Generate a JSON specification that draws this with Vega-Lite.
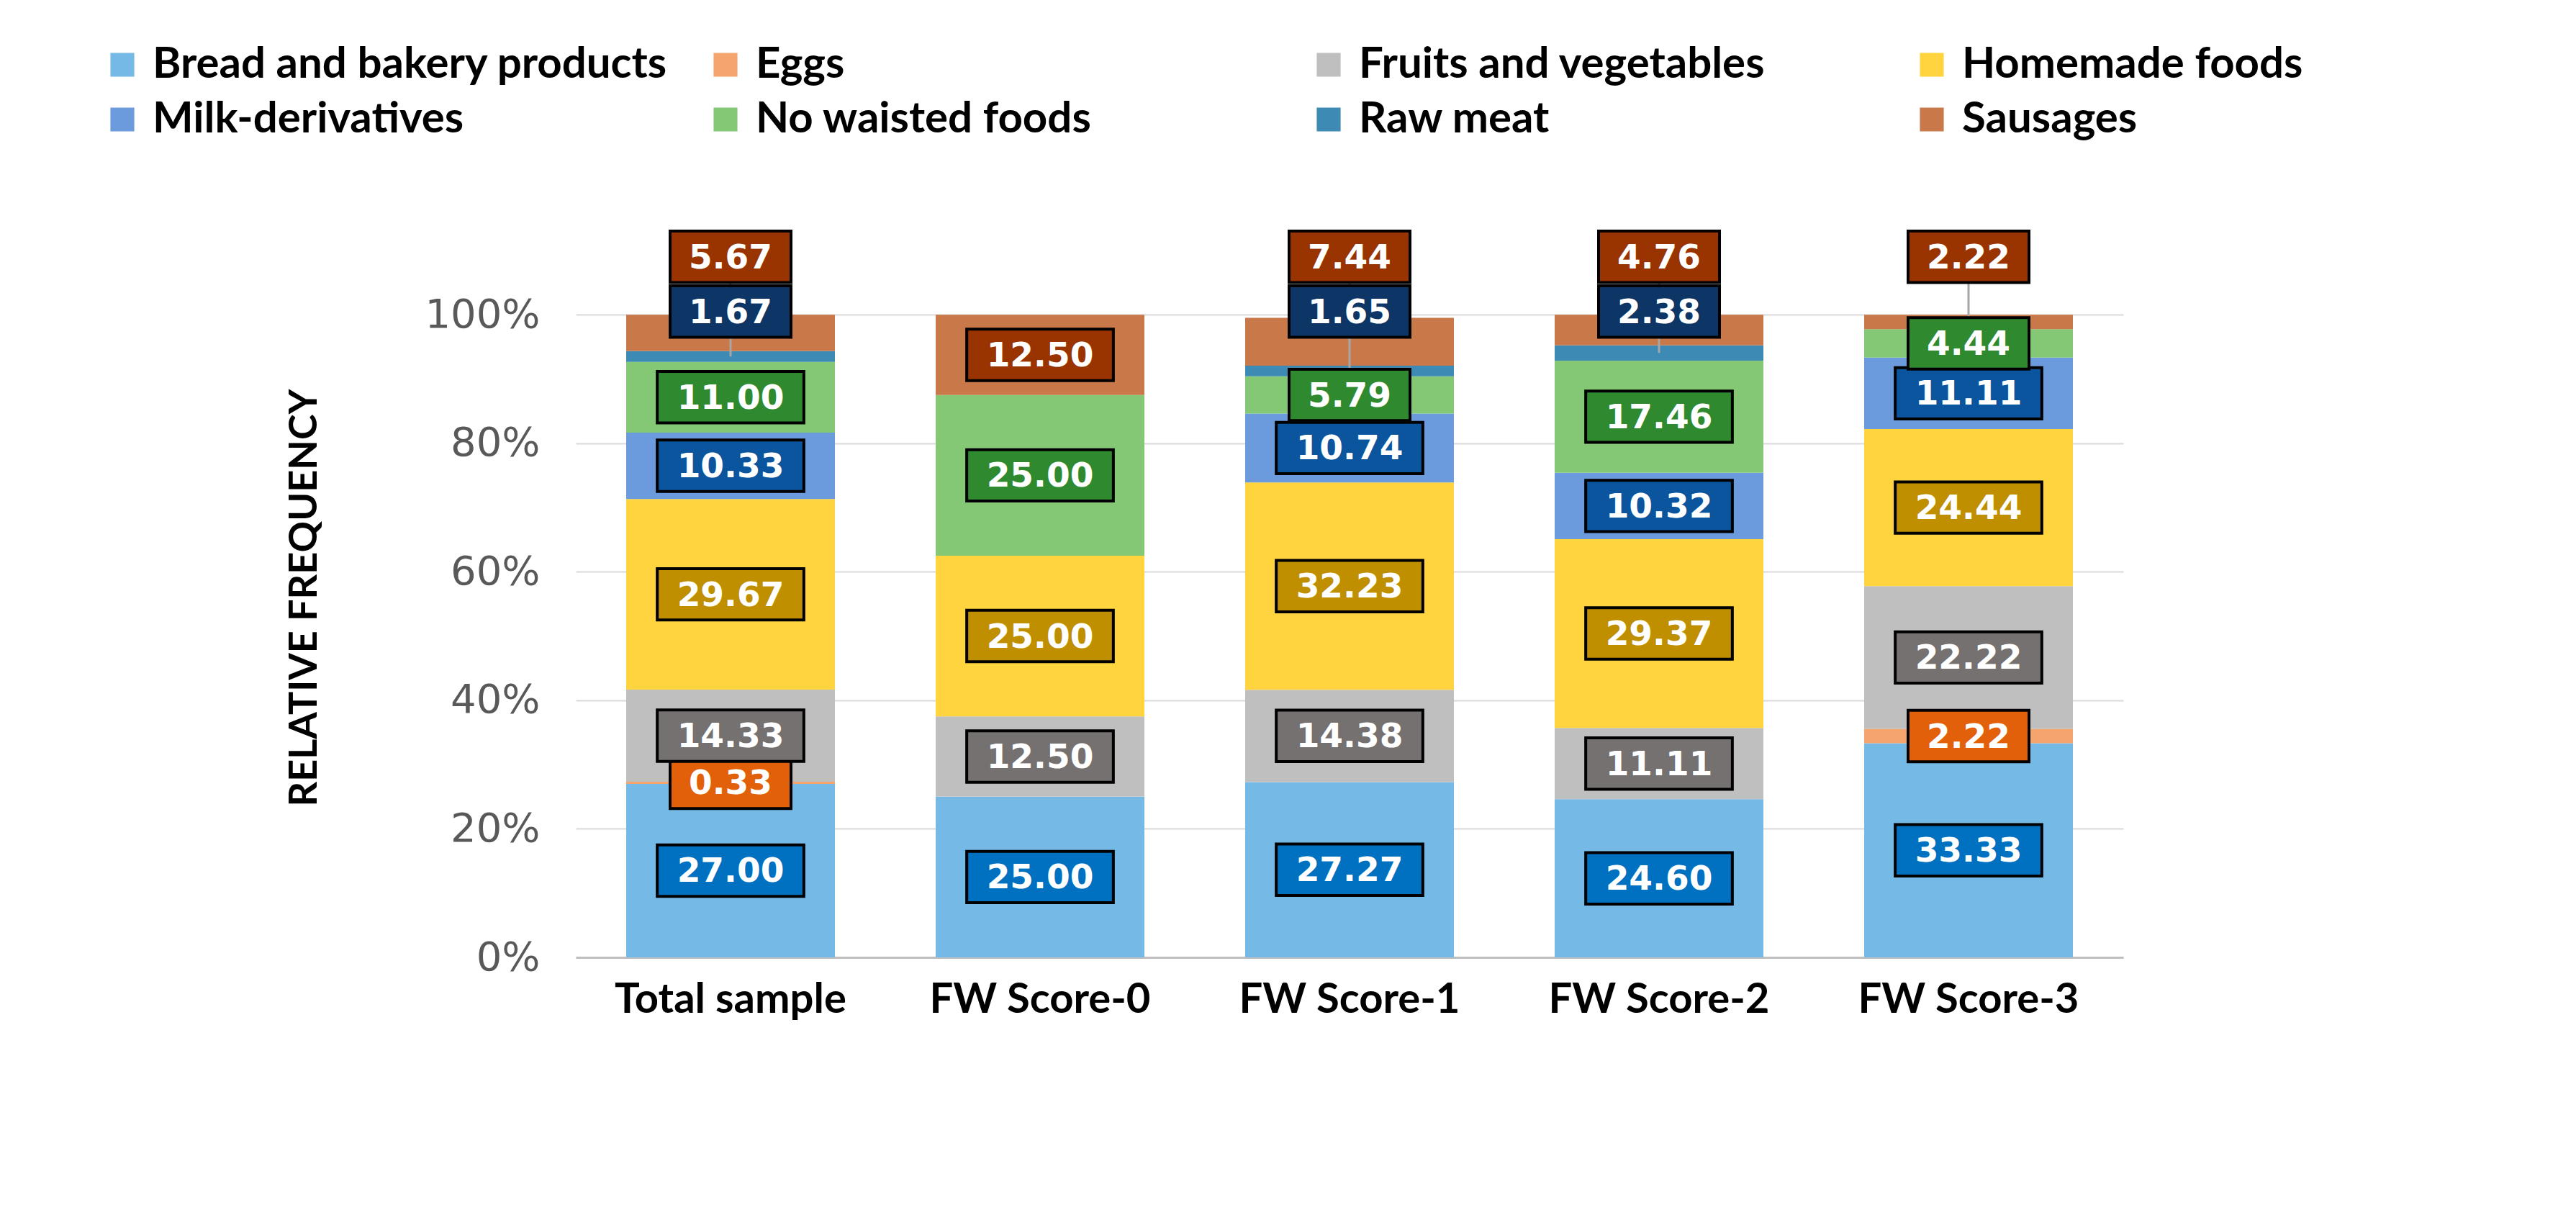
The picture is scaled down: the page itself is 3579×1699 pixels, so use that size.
{
  "$schema": "https://vega.github.io/schema/vega-lite/v6.json",
  "autosize": {"type": "none"},
  "padding": {"left": 800, "top": 330, "right": 629, "bottom": 369},
  "width": 2150,
  "height": 1000,
  "background": "white",
  "config": {"view": {"stroke": null}},
  "data": {
    "values": [
      {"group": "Total sample", "category": "Bread and bakery products", "value": 27.00},
      {"group": "Total sample", "category": "Eggs", "value": 0.33},
      {"group": "Total sample", "category": "Fruits and vegetables", "value": 14.33},
      {"group": "Total sample", "category": "Homemade foods", "value": 29.67},
      {"group": "Total sample", "category": "Milk-derivatives", "value": 10.33},
      {"group": "Total sample", "category": "No waisted foods", "value": 11.00},
      {"group": "Total sample", "category": "Raw meat", "value": 1.67},
      {"group": "Total sample", "category": "Sausages", "value": 5.67},
      {"group": "FW Score-0", "category": "Bread and bakery products", "value": 25.00},
      {"group": "FW Score-0", "category": "Fruits and vegetables", "value": 12.50},
      {"group": "FW Score-0", "category": "Homemade foods", "value": 25.00},
      {"group": "FW Score-0", "category": "No waisted foods", "value": 25.00},
      {"group": "FW Score-0", "category": "Sausages", "value": 12.50},
      {"group": "FW Score-1", "category": "Bread and bakery products", "value": 27.27},
      {"group": "FW Score-1", "category": "Fruits and vegetables", "value": 14.38},
      {"group": "FW Score-1", "category": "Homemade foods", "value": 32.23},
      {"group": "FW Score-1", "category": "Milk-derivatives", "value": 10.74},
      {"group": "FW Score-1", "category": "No waisted foods", "value": 5.79},
      {"group": "FW Score-1", "category": "Raw meat", "value": 1.65},
      {"group": "FW Score-1", "category": "Sausages", "value": 7.44},
      {"group": "FW Score-2", "category": "Bread and bakery products", "value": 24.60},
      {"group": "FW Score-2", "category": "Fruits and vegetables", "value": 11.11},
      {"group": "FW Score-2", "category": "Homemade foods", "value": 29.37},
      {"group": "FW Score-2", "category": "Milk-derivatives", "value": 10.32},
      {"group": "FW Score-2", "category": "No waisted foods", "value": 17.46},
      {"group": "FW Score-2", "category": "Raw meat", "value": 2.38},
      {"group": "FW Score-2", "category": "Sausages", "value": 4.76},
      {"group": "FW Score-3", "category": "Bread and bakery products", "value": 33.33},
      {"group": "FW Score-3", "category": "Eggs", "value": 2.22},
      {"group": "FW Score-3", "category": "Fruits and vegetables", "value": 22.22},
      {"group": "FW Score-3", "category": "Homemade foods", "value": 24.44},
      {"group": "FW Score-3", "category": "Milk-derivatives", "value": 11.11},
      {"group": "FW Score-3", "category": "No waisted foods", "value": 4.44},
      {"group": "FW Score-3", "category": "Sausages", "value": 2.22}
    ]
  },
  "transform": [
    {"calculate": "indexof(['Bread and bakery products','Eggs','Fruits and vegetables','Homemade foods','Milk-derivatives','No waisted foods','Raw meat','Sausages'], datum.category)", "as": "ord"},
    {"stack": "value", "groupby": ["group"], "sort": [{"field": "ord", "order": "ascending"}], "as": ["y0", "y1"]},
    {"calculate": "(datum.y0 + datum.y1) / 2", "as": "mid"},
    {"calculate": "datum.category === 'Sausages' && datum.value < 8 ? 109 : (datum.category === 'Raw meat' ? 100.5 : datum.mid)", "as": "ly"}
  ],
  "encoding": {
    "x": {
      "field": "group",
      "type": "nominal",
      "sort": ["Total sample", "FW Score-0", "FW Score-1", "FW Score-2", "FW Score-3"],
      "scale": {"paddingInner": 0, "paddingOuter": 0},
      "axis": {
        "title": null,
        "labelAngle": 0,
        "labelFont": "Lato",
        "labelFontWeight": "bold",
        "labelFontSize": 58,
        "labelColor": "black",
        "labelLimit": 1000,
        "labelPadding": 30,
        "ticks": false,
        "domainColor": "#bfbfbf",
        "domainWidth": 3
      }
    }
  },
  "layer": [
    {
      "mark": {"type": "bar", "size": 290},
      "encoding": {
        "y": {
          "field": "y0",
          "type": "quantitative",
          "scale": {"domain": [0, 112], "nice": false},
          "axis": {
            "title": "RELATIVE FREQUENCY",
            "titleFont": "Lato",
            "titleFontWeight": "bold",
            "titleFontSize": 54,
            "titleColor": "black",
            "titlePadding": 150,
            "values": [0, 20, 40, 60, 80, 100],
            "labelExpr": "datum.value + '%'",
            "labelFont": "DejaVu Sans",
            "labelFontSize": 56,
            "labelColor": "#595959",
            "labelPadding": 50,
            "ticks": false,
            "domain": false,
            "gridColor": "#d9d9d9",
            "gridWidth": 2
          }
        },
        "y2": {"field": "y1"},
        "color": {
          "field": "category",
          "type": "nominal",
          "sort": ["Bread and bakery products", "Eggs", "Fruits and vegetables", "Homemade foods", "Milk-derivatives", "No waisted foods", "Raw meat", "Sausages"],
          "scale": {
            "domain": ["Bread and bakery products", "Eggs", "Fruits and vegetables", "Homemade foods", "Milk-derivatives", "No waisted foods", "Raw meat", "Sausages"],
            "range": ["#75b9e6", "#f4a46c", "#bfbfbf", "#ffd43e", "#6b9bdc", "#84c876", "#3d8ab5", "#c9784a"]
          },
          "legend": {
            "title": null,
            "orient": "none",
            "legendX": -660,
            "legendY": -270,
            "direction": "horizontal",
            "columns": 4,
            "gridAlign": "all",
            "symbolType": "square",
            "symbolSize": 1100,
            "labelFont": "Lato",
            "labelFontWeight": "bold",
            "labelFontSize": 60,
            "labelColor": "black",
            "labelOffset": 12,
            "labelLimit": 1000,
            "columnPadding": 50,
            "rowPadding": 16
          }
        }
      }
    },
    {
      "transform": [{"filter": "datum.ly !== datum.mid"}],
      "mark": {"type": "rule", "color": "#a6a6a6", "strokeWidth": 3},
      "encoding": {
        "y": {"field": "mid", "type": "quantitative"},
        "y2": {"field": "ly"}
      }
    },
    {
      "transform": [{"calculate": "datum.category", "as": "boxCategory"}],
      "mark": {"type": "point", "filled": true, "size": 44100, "opacity": 1, "stroke": "black", "strokeWidth": 4},
      "encoding": {
        "y": {"field": "ly", "type": "quantitative"},
        "shape": {
          "condition": {"test": "datum.value >= 10", "value": "M-0.97,-0.34L0.97,-0.34L0.97,0.34L-0.97,0.34Z"},
          "value": "M-0.8,-0.34L0.8,-0.34L0.8,0.34L-0.8,0.34Z"
        },
        "fill": {
          "field": "boxCategory",
          "type": "nominal",
          "legend": null,
          "scale": {
            "domain": ["Bread and bakery products", "Eggs", "Fruits and vegetables", "Homemade foods", "Milk-derivatives", "No waisted foods", "Raw meat", "Sausages"],
            "range": ["#0070c0", "#e2600a", "#757171", "#bf8f00", "#0b559f", "#2f8a2f", "#0d3566", "#993300"]
          }
        }
      }
    },
    {
      "mark": {"type": "text", "color": "white", "font": "DejaVu Sans", "fontWeight": "bold", "fontSize": 47, "align": "center", "baseline": "middle", "dy": 2},
      "encoding": {
        "y": {"field": "ly", "type": "quantitative"},
        "text": {"field": "value", "type": "quantitative", "format": ".2f"}
      }
    }
  ]
}
